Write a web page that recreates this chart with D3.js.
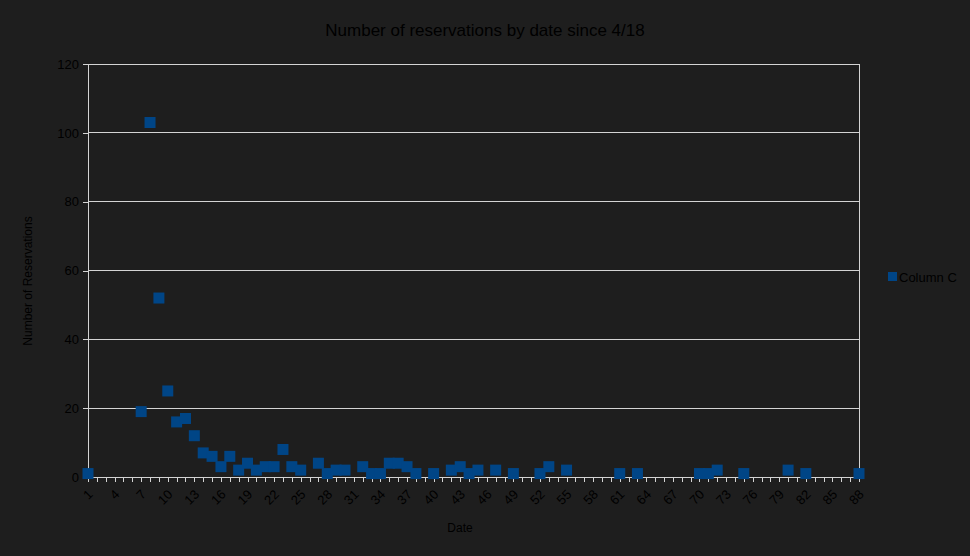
<!DOCTYPE html>
<html><head><meta charset="utf-8">
<script src="https://cdn.jsdelivr.net/npm/d3@7"></script>
<style>body{margin:0;background:#1e1e1e;}svg{display:block;}</style>
</head><body>
<script>
const dates = d3.range(1, 89);
const observedDates = [1,7,8,9,10,11,12,13,14,15,16,17,18,19,20,21,22,23,24,25,27,28,29,30,32,33,34,35,36,37,38,40,42,43,44,45,47,49,52,53,55,61,63,70,71,72,75,80,82,88];
const reservations = [1,19,103,52,25,16,17,12,7,6,3,6,2,4,2,3,3,8,3,2,4,1,2,2,3,1,1,4,4,3,1,1,2,3,1,2,2,1,1,3,2,1,1,1,1,2,1,2,1,1];
const yTicks = [0,20,40,60,80,100,120];
const xLabelDates = d3.range(1, 89, 3);
const seriesName = "Column C";

const W = 970, H = 556;
const svg = d3.select("body").append("svg").attr("width", W).attr("height", H);
svg.append("rect").attr("width", W).attr("height", H).attr("fill", "#1e1e1e");

const x = d3.scalePoint().domain(dates).range([88, 859]);
const y = d3.scaleLinear().domain([0, 120]).range([477, 64]);
const font = "'Liberation Sans', Arial, sans-serif";
const gridCol = "#d4d4d4";

// gridlines
svg.append("g").selectAll("line").data(yTicks).join("line")
  .attr("x1", 88).attr("x2", 859).attr("y1", d => y(d)).attr("y2", d => y(d))
  .attr("stroke", gridCol).attr("stroke-width", 1).attr("shape-rendering", "crispEdges");
// right border
svg.append("line").attr("x1", 859).attr("x2", 859).attr("y1", 64).attr("y2", 477)
  .attr("stroke", gridCol).attr("shape-rendering", "crispEdges");

// y axis
const yAxis = svg.append("g").attr("transform", "translate(88,0)")
  .call(d3.axisLeft(y).tickValues(yTicks).tickSize(5).tickPadding(4));
yAxis.select(".domain").attr("stroke", gridCol).attr("shape-rendering", "crispEdges");
yAxis.selectAll(".tick line").attr("stroke", gridCol).attr("shape-rendering", "crispEdges");
yAxis.selectAll("text").attr("fill", "#000").attr("font-family", font).attr("font-size", 13);

// x axis
const xAxis = svg.append("g").attr("transform", "translate(0,477)")
  .call(d3.axisBottom(x).tickSize(5).tickSizeOuter(0)
    .tickFormat(d => xLabelDates.includes(d) ? d : ""));
xAxis.select(".domain").attr("stroke", gridCol).attr("shape-rendering", "crispEdges");
xAxis.selectAll(".tick line").attr("stroke", gridCol).attr("shape-rendering", "crispEdges");
xAxis.selectAll("text").attr("fill", "#000").attr("font-family", font).attr("font-size", 13)
  .attr("text-anchor", "end").attr("dy", "0.35em")
  .attr("transform", "translate(2,15) rotate(-45)").attr("x", 0).attr("y", 0);

// points
const pts = observedDates.map((d, i) => ({date: d, value: reservations[i]}));
svg.append("g").selectAll("rect").data(pts).join("rect")
  .attr("x", d => x(d.date) - 5.5).attr("y", d => y(d.value) - 5.5)
  .attr("width", 11).attr("height", 11).attr("fill", "#004586");

// title
svg.append("text").attr("x", 485).attr("y", 36).attr("text-anchor", "middle")
  .attr("font-family", font).attr("font-size", 17).attr("fill", "#000")
  .text("Number of reservations by date since 4/18");
// axis titles
svg.append("text").attr("x", 460).attr("y", 532).attr("text-anchor", "middle")
  .attr("font-family", font).attr("font-size", 12).attr("fill", "#000").text("Date");
svg.append("text").attr("transform", "translate(32,281) rotate(-90)").attr("text-anchor", "middle")
  .attr("font-family", font).attr("font-size", 12).attr("fill", "#000").text("Number of Reservations");

// legend
svg.append("rect").attr("x", 888).attr("y", 272).attr("width", 9).attr("height", 9).attr("fill", "#004586");
svg.append("text").attr("x", 899).attr("y", 282).attr("font-family", font).attr("font-size", 13)
  .attr("fill", "#000").text(seriesName);
</script>
</body></html>
